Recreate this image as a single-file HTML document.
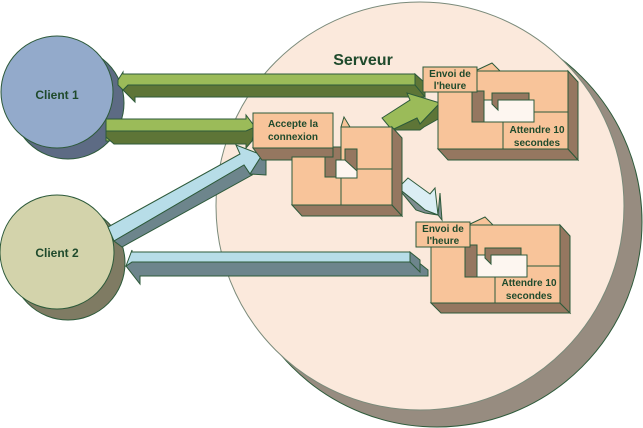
<!DOCTYPE html>
<html><head><style>body{margin:0;background:#fff;overflow:hidden}svg{display:block}text{font-family:"Liberation Sans",sans-serif;font-weight:bold;fill:#1f4a2c}</style></head>
<body>
<svg width="643" height="428" viewBox="0 0 643 428" xmlns="http://www.w3.org/2000/svg">
<g stroke="#2d5a3a" stroke-width="1">
<circle cx="437" cy="222" r="205" fill="#978c80"/>
<circle cx="420" cy="206" r="204" fill="#fbe9dc" stroke="#7a8a7a"/>
<!-- clients -->
<circle cx="68" cy="103" r="56" fill="#5d6b84"/>
<circle cx="57" cy="92" r="56" fill="#93aacb"/>
<circle cx="68" cy="263" r="57" fill="#7f7b63"/>
<circle cx="57" cy="252" r="57" fill="#d3d3ab"/>
<!-- green top arrow (left) -->
<polygon points="128,85 415,85 425,95 425,97 135,97 135,102 123,90" fill="#5e7537"/>
<polygon points="118,80 123,72 123,74 415,74 415,85 128,85 123,90 118,85" fill="#9bbb59"/>
<polygon points="415,74 425,83 425,97 415,85" fill="#5e7537"/>
<!-- green arrow 2 (right) -->
<polygon points="106,131 106,119 246,119 246,115 255,127 246,139 246,141 106,141" fill="#9bbb59"/>
<polygon points="106,131 246,131 255,127 252,141 246,148 246,144 114,144 106,137" fill="#5e7537"/>
<!-- blue bottom arrow -->
<polygon points="132,262 418,262 428,270 428,276 140,276 140,284 126,266" fill="#6d858c"/>
<polygon points="126,266 132,250 132,252 410,252 410,262 132,262" fill="#b7dde8"/>
<polygon points="410,252 420,260 420,272 410,262" fill="#6d858c"/>
<!-- blue diagonal arrow -->
<polygon points="108,227 240,154 236,145 262,155 250,174 244,165 114,241" fill="#b7dde8"/>
<polygon points="114,241 244,165 250,174 266,175 266,159 262,155 250,174 252,175 122,247" fill="#6d858c"/>
<!-- green small diagonal -->
<polygon points="382,118 410,100 407,93 440,103 420,124 417,118 392,130" fill="#9bbb59"/>
<polygon points="392,130 417,118 420,124 440,103 440,118 424,127 420,130" fill="#5e7537"/>
<!-- blue small diagonal -->
<polygon points="398,188 408,178 430,194 435,188 438,215 425,210 418,204" fill="#dbeef4"/>
<polygon points="398,188 418,204 425,210 438,215 442,220 440,193 438,215 425,213 416,210" fill="#7f8d90"/>
<!-- Block A -->
<g>
<polygon points="292,205 392,205 402,216 302,216" fill="#957760"/>
<polygon points="392,127 402,138 402,216 392,205" fill="#957760"/>
<rect x="292" y="147" width="49" height="58" fill="#f8c49a"/>
<rect x="341" y="127" width="51" height="78" fill="#f8c49a"/>
<rect x="341" y="169" width="51" height="36" fill="#f8c49a"/>
<rect x="325" y="147" width="16" height="30" fill="#957760"/>
<rect x="336" y="160" width="21" height="18" fill="#fdf6f0"/>
<polygon points="345,149 357,149 357,171 345,160" fill="#957760"/>
<polygon points="344,117 350,127 341,127" fill="#f8c49a"/>
<polygon points="253,148 333,148 333,157 292,157 292,160 262,160" fill="#957760"/>
<rect x="253" y="113" width="80" height="35" fill="#f8c49a"/>
</g>
<!-- Block B -->
<g>
<polygon points="438,149 568,149 578,160 448,160" fill="#957760"/>
<polygon points="568,71 578,82 578,160 568,149" fill="#957760"/>
<rect x="438" y="91" width="65" height="58" fill="#f8c49a"/>
<rect x="475" y="71" width="93" height="41" fill="#f8c49a"/>
<rect x="503" y="112" width="65" height="37" fill="#f8c49a"/>
<rect x="472" y="91" width="12" height="31" fill="#957760"/>
<rect x="484" y="100" width="50" height="22" fill="#fdf6f0"/>
<polygon points="492,93 529,93 529,100 498,100 498,110 492,104" fill="#957760"/>
<polygon points="492,63 500,71 475,71" fill="#f8c49a"/>
<rect x="423" y="67" width="54" height="25" fill="#f8c49a"/>
</g>
<!-- Block C -->
<g>
<polygon points="431,303 560,303 570,313 441,313" fill="#957760"/>
<polygon points="560,225 570,236 570,313 560,303" fill="#957760"/>
<rect x="431" y="245" width="65" height="58" fill="#f8c49a"/>
<rect x="468" y="225" width="92" height="41" fill="#f8c49a"/>
<rect x="495" y="266" width="65" height="37" fill="#f8c49a"/>
<rect x="465" y="245" width="12" height="32" fill="#957760"/>
<rect x="477" y="255" width="50" height="22" fill="#fdf6f0"/>
<polygon points="485,248 521,248 521,255 491,255 491,264 485,258" fill="#957760"/>
<polygon points="485,217 493,225 468,225" fill="#f8c49a"/>
<rect x="416" y="222" width="54" height="25" fill="#f8c49a"/>
</g>
</g>
<text x="363" y="65" font-size="16" text-anchor="middle">Serveur</text>
<text x="57" y="99" font-size="12" text-anchor="middle">Client 1</text>
<text x="57" y="257" font-size="12" text-anchor="middle">Client 2</text>
<g font-size="10" text-anchor="middle">
<text x="293" y="127">Accepte la</text><text x="293" y="140">connexion</text>
<text x="450" y="77">Envoi de</text><text x="450" y="89">l'heure</text>
<text x="537" y="133">Attendre 10</text><text x="537" y="146">secondes</text>
<text x="443" y="232">Envoi de</text><text x="443" y="244">l'heure</text>
<text x="529" y="286">Attendre 10</text><text x="529" y="299">secondes</text>
</g>
</svg>
</body></html>
